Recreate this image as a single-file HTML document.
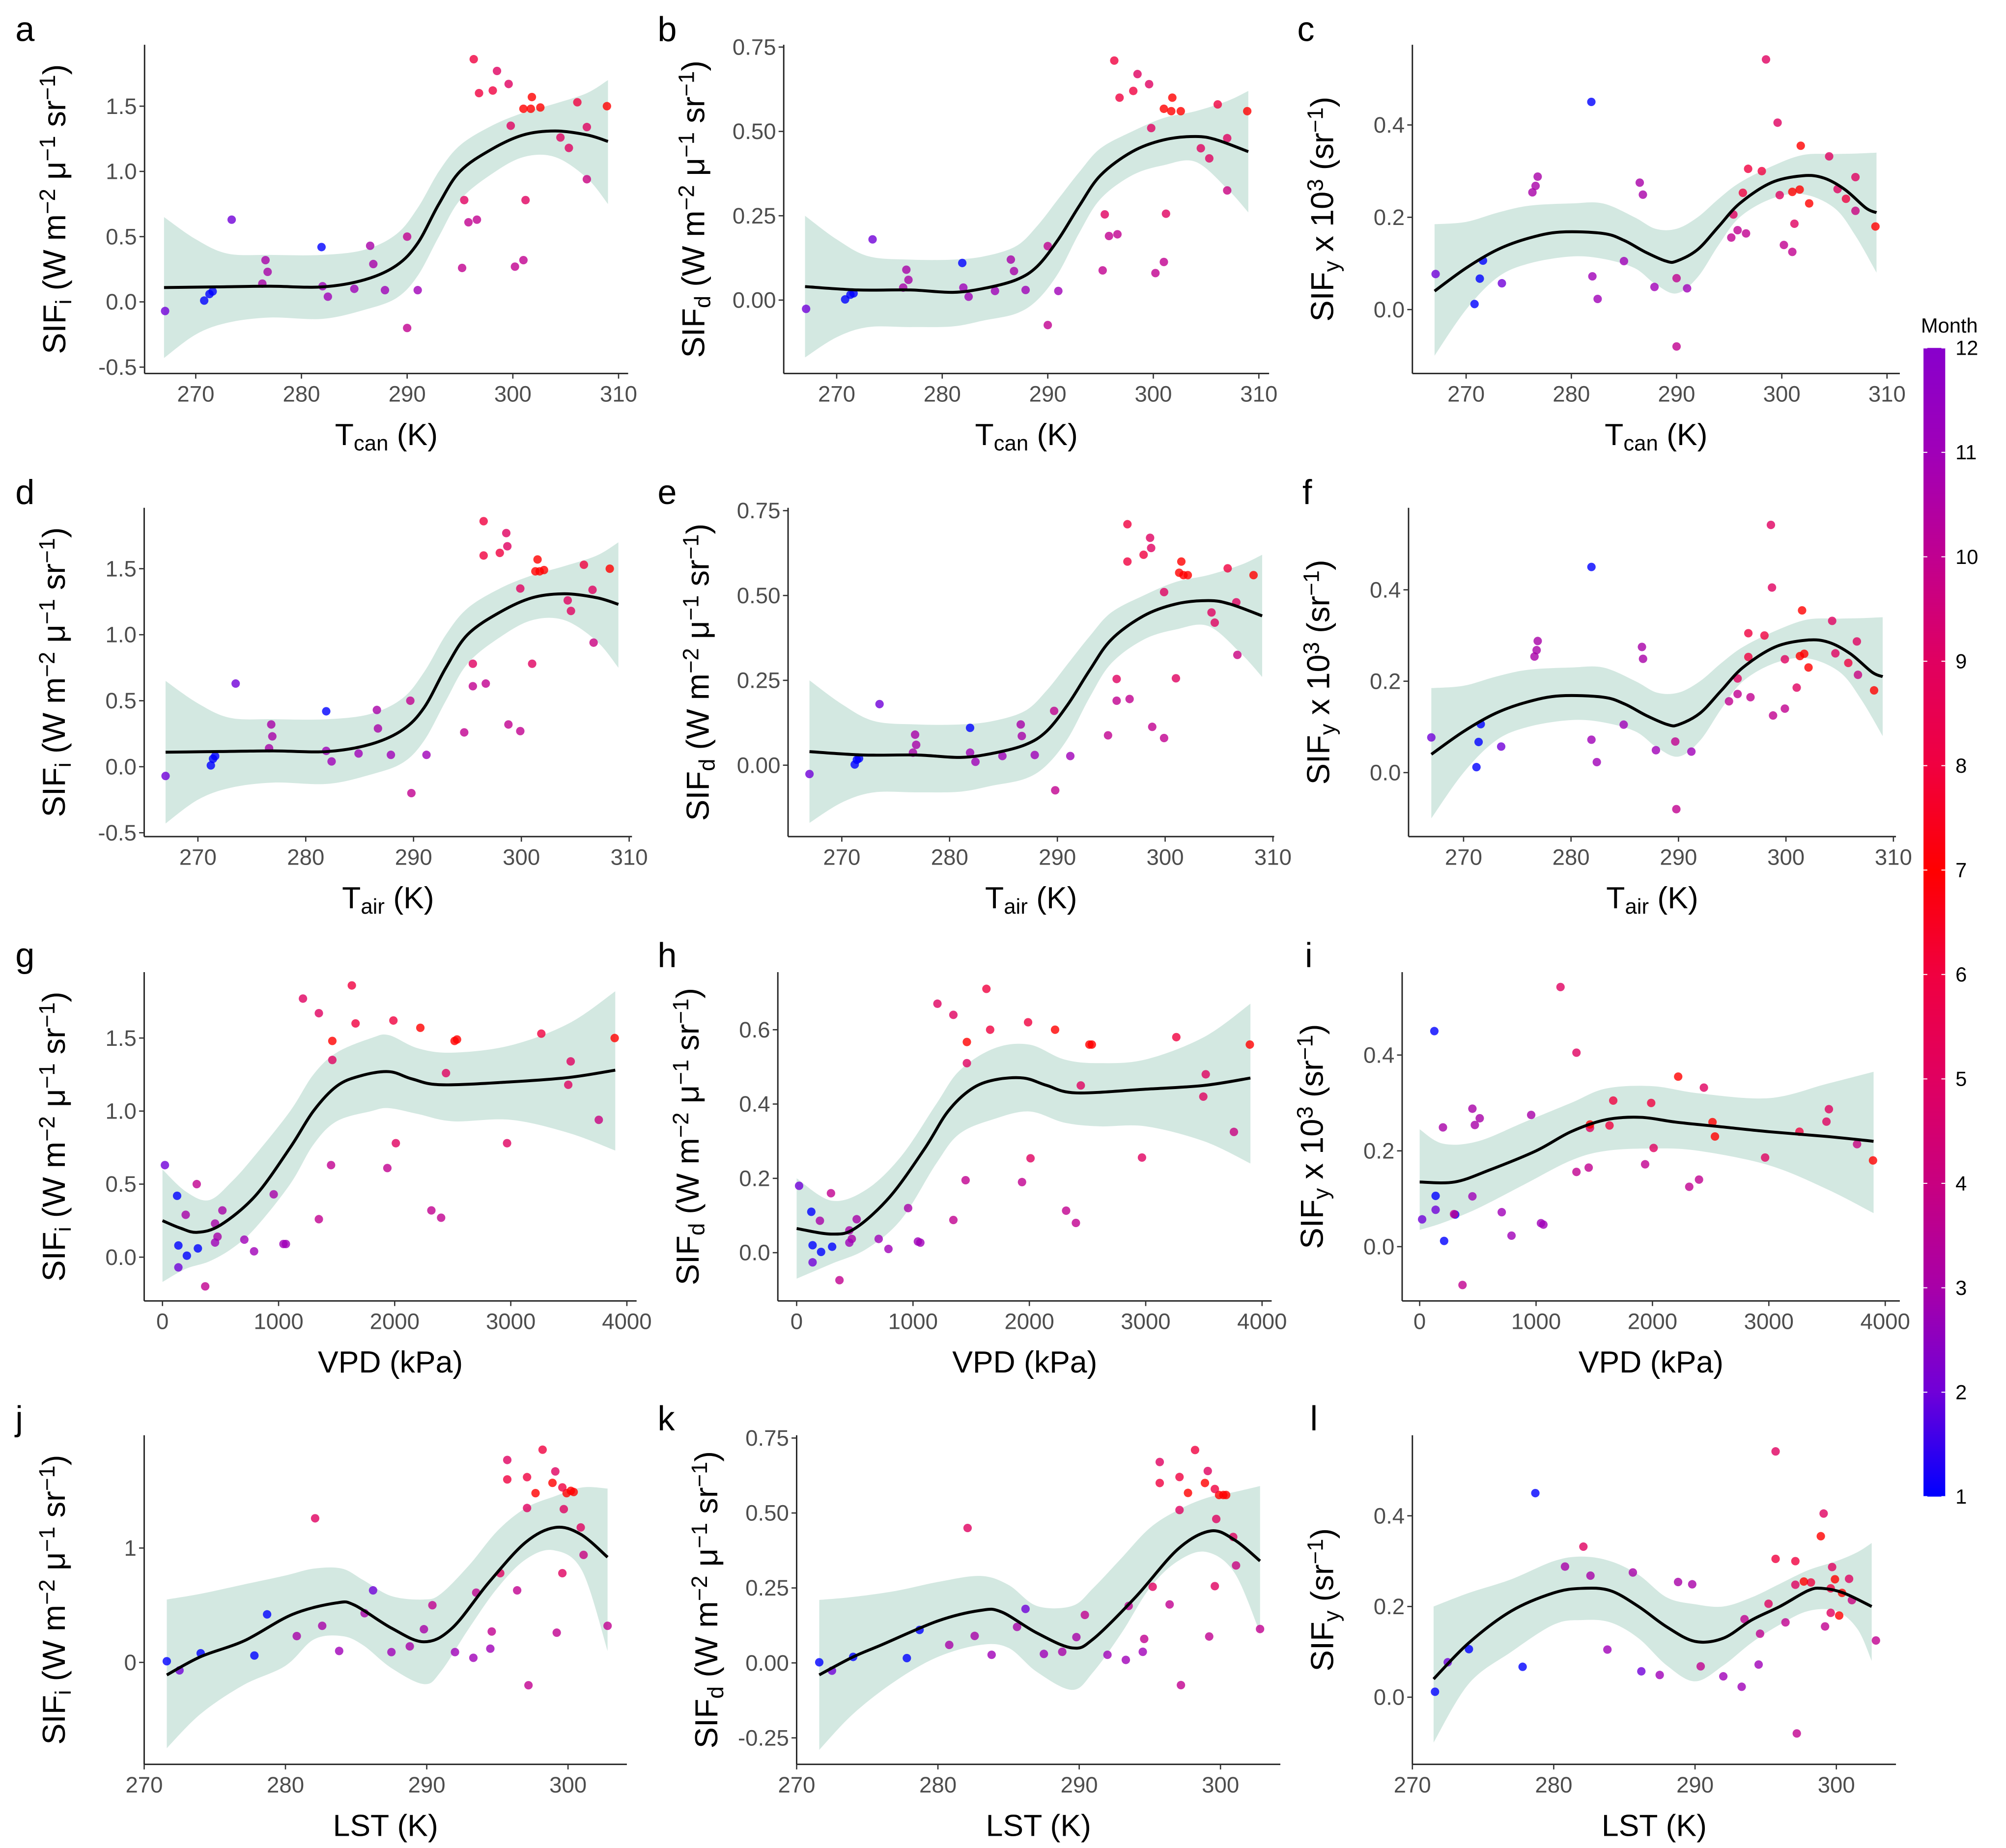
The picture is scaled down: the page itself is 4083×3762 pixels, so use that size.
<!DOCTYPE html>
<html><head><meta charset="utf-8"><style>
html,body{margin:0;padding:0;background:#fff;}
svg{display:block;font-family:"Liberation Sans",sans-serif;}
</style></head><body>
<svg id="fig" width="4083" height="3762" viewBox="0 0 1568 1444.7" preserveAspectRatio="none" xmlns="http://www.w3.org/2000/svg">
<defs>
<linearGradient id="mgrad" x1="0" y1="1" x2="0" y2="0">
<stop offset="0" stop-color="#0000ff"/><stop offset="0.091" stop-color="#7000d8"/><stop offset="0.182" stop-color="#a800a8"/><stop offset="0.273" stop-color="#c80080"/><stop offset="0.364" stop-color="#e00060"/><stop offset="0.455" stop-color="#f00040"/><stop offset="0.545" stop-color="#ff0000"/><stop offset="0.636" stop-color="#f00040"/><stop offset="0.727" stop-color="#e00060"/><stop offset="0.818" stop-color="#c00090"/><stop offset="0.909" stop-color="#a000b8"/><stop offset="1" stop-color="#8800cc"/>
</linearGradient>
</defs>
</svg>
<script>
// ---- observation data ----
const Tcan=[267.1,270.8,271.3,271.6,273.4,276.3,276.6,276.8,281.9,282.0,282.5,285.0,286.5,286.8,287.9,290.0,290.0,291.0,295.2,295.4,295.8,296.3,296.6,296.8,298.1,298.5,299.6,299.8,300.2,301.0,301.0,301.2,301.7,301.8,302.6,304.5,305.3,306.1,307.0,307.0,308.9];
const Tair=[267.0,271.2,271.4,271.6,273.5,276.6,276.8,276.9,281.9,281.9,282.4,284.9,286.6,286.7,287.9,289.7,289.8,291.2,294.7,295.5,295.5,296.5,296.7,296.5,298.0,298.6,298.7,299.9,299.9,301.3,298.8,301.0,301.7,301.5,302.1,304.3,304.6,305.8,306.6,306.7,308.2];
const VPD=[137,210,305,137,21,474,516,453,126,705,789,453,958,200,1042,295,368,1063,1347,2010,1937,1631,1452,1663,1989,1210,1347,1463,2400,1463,2316,2968,2516,2221,2537,2442,3495,3263,3516,3758,3895];
const LST=[272.5,271.6,277.8,274.0,286.2,288.8,282.6,280.8,278.7,294.5,293.3,283.8,285.6,289.8,287.5,290.4,297.2,292.0,299.2,295.2,293.5,298.2,296.4,295.7,297.1,295.7,299.1,297.1,294.6,297.7,302.8,299.6,299.9,298.9,300.4,282.1,300.9,299.6,299.7,301.1,300.2];
const SIFi=[-0.07,0.01,0.06,0.08,0.63,0.14,0.32,0.23,0.42,0.12,0.04,0.10,0.43,0.29,0.09,0.50,-0.20,0.09,0.26,0.78,0.61,1.86,0.63,1.60,1.62,1.77,1.67,1.35,0.27,1.48,0.32,0.78,1.48,1.57,1.49,1.26,1.18,1.53,1.34,0.94,1.50];
const SIFd=[-0.026,0.002,0.016,0.02,0.18,0.037,0.09,0.06,0.11,0.037,0.01,0.027,0.12,0.086,0.03,0.16,-0.074,0.027,0.088,0.254,0.19,0.71,0.195,0.60,0.62,0.67,0.64,0.51,0.08,0.567,0.113,0.256,0.56,0.60,0.56,0.45,0.42,0.58,0.48,0.325,0.56];
const SIFy=[0.077,0.012,0.067,0.106,0.057,0.254,0.268,0.288,0.45,0.072,0.023,0.105,0.275,0.249,0.049,0.068,-0.08,0.046,0.156,0.206,0.172,0.253,0.165,0.305,0.30,0.542,0.405,0.248,0.14,0.255,0.125,0.186,0.26,0.355,0.23,0.332,0.261,0.24,0.287,0.214,0.18];
const month=[2,1,1,1,2,3,3,3,1,11,11,11,3,3,11,10,10,11,10,9,10,6,10,6,6,5,5,9,10,7,10,9,7,7,7,9,9,8,9,4,7];
// ---- fitted smooth + confidence bands ----
const aFitX=[267,272,277,282,286,289,291,293,295,298,301,304,307,309];
const aFitY=[0.11,0.115,0.12,0.115,0.17,0.28,0.45,0.75,1.0,1.17,1.28,1.31,1.28,1.23];
const aBandX=[267,270,273,277,282,286,289,291,293,295,298,301,304,307,309];
const aBandLo=[-0.43,-0.25,-0.16,-0.12,-0.13,-0.06,0.03,0.2,0.5,0.78,0.98,1.11,1.11,0.95,0.75];
const aBandHi=[0.65,0.48,0.37,0.36,0.36,0.40,0.52,0.72,1.0,1.2,1.35,1.45,1.52,1.6,1.7];
const bFitX=[267,272,277,281,284,287,289,291,293,295,298,301,304,306,309];
const bFitY=[0.04,0.03,0.03,0.023,0.035,0.06,0.1,0.18,0.28,0.37,0.44,0.475,0.485,0.475,0.44];
const bBandX=[267,270,273,277,281,284,287,289,291,293,295,298,301,304,307,309];
const bBandLo=[-0.17,-0.11,-0.08,-0.08,-0.078,-0.06,-0.04,0.0,0.08,0.2,0.3,0.37,0.4,0.41,0.33,0.26];
const bBandHi=[0.25,0.18,0.13,0.12,0.12,0.13,0.16,0.22,0.3,0.38,0.45,0.5,0.54,0.56,0.59,0.62];
const cFitX=[267,270,273,276,279,283,285,287,289,290,292,294,296,299,302,304,306,308,309];
const cFitY=[0.04,0.09,0.13,0.155,0.168,0.165,0.15,0.125,0.105,0.105,0.13,0.18,0.23,0.275,0.29,0.285,0.26,0.22,0.21];
const cBandX=[267,270,273,276,280,283,286,288,290,292,294,296,299,302,305,307,309];
const cBandLo=[-0.1,0.0,0.07,0.1,0.115,0.11,0.09,0.055,0.035,0.07,0.14,0.2,0.24,0.25,0.22,0.16,0.08];
const cBandHi=[0.185,0.19,0.21,0.225,0.23,0.23,0.2,0.175,0.175,0.2,0.24,0.275,0.31,0.335,0.337,0.338,0.34];
const gFitX=[0,150,300,500,800,1100,1300,1500,1700,1950,2150,2400,3000,3500,3900];
const gFitY=[0.25,0.2,0.17,0.22,0.42,0.75,1.0,1.17,1.24,1.27,1.22,1.18,1.2,1.23,1.28];
const gBandX=[0,200,400,600,800,1100,1300,1500,1800,1950,2200,2500,3000,3500,3900];
const gBandLo=[-0.17,-0.08,-0.03,0.06,0.2,0.5,0.77,0.93,1.0,1.02,0.98,0.93,0.94,0.85,0.73];
const gBandHi=[0.6,0.45,0.39,0.52,0.7,1.0,1.25,1.4,1.5,1.52,1.43,1.4,1.45,1.6,1.82];
const hFitX=[0,300,500,800,1100,1300,1500,1700,1950,2150,2400,3000,3500,3900];
const hFitY=[0.065,0.05,0.065,0.15,0.28,0.38,0.44,0.465,0.47,0.45,0.43,0.44,0.45,0.47];
const hBandX=[0,300,600,900,1200,1400,1700,2000,2300,2600,3000,3500,3900];
const hBandLo=[-0.07,-0.03,0.01,0.09,0.24,0.32,0.36,0.38,0.35,0.34,0.34,0.3,0.24];
const hBandHi=[0.2,0.14,0.17,0.26,0.4,0.49,0.55,0.56,0.52,0.51,0.52,0.58,0.67];
const iFitX=[0,300,600,1000,1300,1600,1900,2200,2600,3000,3500,3900];
const iFitY=[0.135,0.135,0.16,0.2,0.24,0.265,0.27,0.26,0.25,0.24,0.23,0.22];
const iBandX=[0,200,500,900,1300,1600,2000,2400,3000,3500,3900];
const iBandLo=[0.035,0.05,0.08,0.13,0.18,0.2,0.205,0.2,0.17,0.12,0.07];
const iBandHi=[0.245,0.215,0.22,0.26,0.3,0.33,0.335,0.32,0.31,0.34,0.365];
const jFitX=[271.6,274,277.1,280.5,283.6,284.9,287.5,289.8,291.8,294.4,297,299.1,300.9,302.8];
const jFitY=[-0.11,0.05,0.19,0.42,0.52,0.5,0.3,0.18,0.3,0.7,1.05,1.18,1.12,0.92];
const jBandX=[271.6,274,277,280,282,284,285.5,287.5,289.8,291,293,295,297,299,301,302.8];
const jBandLo=[-0.75,-0.45,-0.2,-0.03,0.2,0.23,0.15,-0.05,-0.19,-0.08,0.3,0.65,0.9,0.98,0.8,0.1];
const jBandHi=[0.55,0.6,0.68,0.76,0.82,0.82,0.72,0.58,0.55,0.6,0.85,1.15,1.35,1.45,1.53,1.52];
const kFitX=[271.6,274,276,280,283,284.5,287,289.5,291,294,297,299.3,301,302.8];
const kFitY=[-0.04,0.02,0.06,0.14,0.175,0.17,0.1,0.05,0.08,0.22,0.38,0.44,0.41,0.34];
const kBandX=[271.6,274,277,280,283,285,287,289.5,291,293,295,297,299,301,302.8];
const kBandLo=[-0.29,-0.17,-0.06,0.02,0.06,0.05,-0.03,-0.09,-0.03,0.1,0.25,0.34,0.37,0.3,0.1];
const kBandHi=[0.21,0.22,0.24,0.27,0.29,0.26,0.19,0.19,0.25,0.35,0.45,0.51,0.55,0.57,0.59];
const lFitX=[271.5,274,277,280,282,284,286,288,290,292,294,296,298,299,300.5,302.5];
const lFitY=[0.04,0.12,0.19,0.23,0.24,0.235,0.2,0.155,0.123,0.13,0.17,0.2,0.235,0.24,0.23,0.2];
const lBandX=[271.5,274,277,280,282,284,286,288,290,292,294,296,298,300,301.5,302.5];
const lBandLo=[-0.1,0.03,0.1,0.16,0.17,0.165,0.13,0.07,0.035,0.07,0.12,0.16,0.19,0.19,0.15,0.08];
const lBandHi=[0.2,0.23,0.26,0.3,0.31,0.3,0.27,0.22,0.205,0.2,0.22,0.25,0.28,0.3,0.32,0.34];
// tick arrays
const tempTicks=[270,280,290,300,310];
const vpdTicks=[0,1000,2000,3000,4000];
const lstTicks=[270,280,290,300];
const sifiTicks=[-0.5,0,0.5,1,1.5];
const sifiTickLabels=["-0.5","0.0","0.5","1.0","1.5"];
const sifdTicks=[0,0.25,0.5,0.75];
const sifdTickLabels=["0.00","0.25","0.50","0.75"];
const sifyTicks=[0,0.2,0.4];
const sifyTickLabels=["0.0","0.2","0.4"];
const sifiLstTicks=[0,1];
const sifiLstTickLabels=["0","1"];
const sifdLstTicks=[-0.25,0,0.25,0.5,0.75];
const sifdLstTickLabels=["-0.25","0.00","0.25","0.50","0.75"];
const monthTicks=[1,2,3,4,5,6,7,8,9,10,11,12];

const NS="http://www.w3.org/2000/svg";
const svg=document.getElementById('fig');
function mk(tag,attrs,parent){const e=document.createElementNS(NS,tag);for(const k in attrs)e.setAttribute(k,attrs[k]);(parent||svg).appendChild(e);return e;}
const stops=["#0000ff","#7000d8","#a800a8","#c80080","#e00060","#f00040","#ff0000","#f00040","#e00060","#c00090","#a000b8","#8800cc"];
function col(m){return stops[Math.max(0,Math.min(11,Math.round(m)-1))];}
function lin(v1,p1,v2,p2){return v=>p1+(v-v1)*(p2-p1)/(v2-v1);}
function smooth(pts){let d="M"+pts[0][0].toFixed(2)+","+pts[0][1].toFixed(2);for(let i=0;i<pts.length-1;i++){const p0=pts[i-1]||pts[i],p1=pts[i],p2=pts[i+1],p3=pts[i+2]||p2;const c1=[p1[0]+(p2[0]-p0[0])/6,p1[1]+(p2[1]-p0[1])/6],c2=[p2[0]-(p3[0]-p1[0])/6,p2[1]-(p3[1]-p1[1])/6];d+="C"+c1[0].toFixed(2)+","+c1[1].toFixed(2)+" "+c2[0].toFixed(2)+","+c2[1].toFixed(2)+" "+p2[0].toFixed(2)+","+p2[1].toFixed(2);}return d;}
function smoothCont(pts){return smooth(pts).replace(/^M/,"L");}

function richText(parent,x,y,parts,attrs){
  const t=mk('text',Object.assign({x:x,y:y},attrs),parent);
  parts.forEach(p=>{const s=mk('tspan',{},t);s.textContent=p[0];
    if(p[1]==='sub'){s.setAttribute('baseline-shift','-25%');s.setAttribute('font-size','70%');}
    if(p[1]==='sup'){s.setAttribute('baseline-shift','45%');s.setAttribute('font-size','70%');}});
  return t;}
const ylabI=[["SIF"],["i","sub"],[" (W m"],["−2","sup"],[" μ"],["−1","sup"],[" sr"],["−1","sup"],[")"]];
const ylabD=[["SIF"],["d","sub"],[" (W m"],["−2","sup"],[" μ"],["−1","sup"],[" sr"],["−1","sup"],[")"]];
const ylabY3=[["SIF"],["y","sub"],[" x 10"],["3","sup"],[" (sr"],["−1","sup"],[")"]];
const ylabY=[["SIF"],["y","sub"],[" (sr"],["−1","sup"],[")"]];
const xlTcan=[["T"],["can","sub"],[" (K)"]];
const xlTair=[["T"],["air","sub"],[" (K)"]];
const xlVPD=[["VPD (kPa)"]];
const xlLST=[["LST (K)"]];

const panels=[
 {id:'a',X:Tcan,Y:SIFi,fx:aFitX,fy:aFitY,bx:aBandX,bl:aBandLo,bh:aBandHi,ax:113,ay:292,top:35,right:491,xs:[270,153,310,483.5],ys:[0,236,1.5,83],xt:tempTicks,yt:sifiTicks,ytl:sifiTickLabels,xl:xlTcan,yl:ylabI,lx:12,ly:32},
 {id:'b',X:Tcan,Y:SIFd,fx:bFitX,fy:bFitY,bx:bBandX,bl:bBandLo,bh:bBandHi,ax:612.6,ay:292,top:35,right:992,xs:[270,654,310,984],ys:[0,234.6,0.75,36.8],xt:tempTicks,yt:sifdTicks,ytl:sifdTickLabels,xl:xlTcan,yl:ylabD,lx:514,ly:32},
 {id:'c',X:Tcan,Y:SIFy,fx:cFitX,fy:cFitY,bx:cBandX,bl:cBandLo,bh:cBandHi,ax:1104,ay:292,top:35,right:1485,xs:[270,1146,310,1475],ys:[0,242,0.4,97.7],xt:tempTicks,yt:sifyTicks,ytl:sifyTickLabels,xl:xlTcan,yl:ylabY3,lx:1014,ly:32},
 {id:'d',X:Tair,Y:SIFi,fx:aFitX,fy:aFitY,bx:aBandX,bl:aBandLo,bh:aBandHi,ax:112.7,ay:654,top:397,right:494,xs:[270,154.7,310,491.8],ys:[0,599.4,1.5,444.6],xt:tempTicks,yt:sifiTicks,ytl:sifiTickLabels,xl:xlTair,yl:ylabI,lx:12,ly:394},
 {id:'e',X:Tair,Y:SIFd,fx:bFitX,fy:bFitY,bx:bBandX,bl:bBandLo,bh:bBandHi,ax:616,ay:654,top:397,right:996,xs:[270,658,310,995],ys:[0,598.2,0.75,399.2],xt:tempTicks,yt:sifdTicks,ytl:sifdTickLabels,xl:xlTair,yl:ylabD,lx:514,ly:394},
 {id:'f',X:Tair,Y:SIFy,fx:cFitX,fy:cFitY,bx:cBandX,bl:cBandLo,bh:cBandHi,ax:1101,ay:654,top:397,right:1482,xs:[270,1144,310,1480],ys:[0,604,0.4,461.1],xt:tempTicks,yt:sifyTicks,ytl:sifyTickLabels,xl:xlTair,yl:ylabY3,lx:1018,ly:394},
 {id:'g',X:VPD,Y:SIFi,fx:gFitX,fy:gFitY,bx:gBandX,bl:gBandLo,bh:gBandHi,ax:112.7,ay:1017,top:760,right:497.6,xs:[0,127,4000,490],ys:[0,982.8,1.5,811.5],xt:vpdTicks,yt:sifiTicks.slice(1),ytl:sifiTickLabels.slice(1),xl:xlVPD,yl:ylabI,lx:12,ly:756},
 {id:'h',X:VPD,Y:SIFd,fx:hFitX,fy:hFitY,bx:hBandX,bl:hBandLo,bh:hBandHi,ax:608,ay:1017,top:760,right:994,xs:[0,622.7,4000,986.5],ys:[0,979.3,0.6,805],xt:vpdTicks,yt:[0,0.2,0.4,0.6],ytl:["0.0","0.2","0.4","0.6"],xl:xlVPD,yl:ylabD,lx:514,ly:756},
 {id:'i',X:VPD,Y:SIFy,fx:iFitX,fy:iFitY,bx:iBandX,bl:iBandLo,bh:iBandHi,ax:1096,ay:1017,top:760,right:1485,xs:[0,1109.7,4000,1473.6],ys:[0,974.6,0.4,824.8],xt:vpdTicks,yt:sifyTicks,ytl:sifyTickLabels,xl:xlVPD,yl:ylabY3,lx:1020,ly:756},
 {id:'j',X:LST,Y:SIFi,fx:jFitX,fy:jFitY,bx:jBandX,bl:jBandLo,bh:jBandHi,ax:112.7,ay:1379.3,top:1122,right:490,xs:[270,112.7,300,444],ys:[0,1299.6,1,1210.2],xt:lstTicks,yt:sifiLstTicks,ytl:sifiLstTickLabels,xl:xlLST,yl:ylabI,lx:12,ly:1118},
 {id:'k',X:LST,Y:SIFd,fx:kFitX,fy:kFitY,bx:kBandX,bl:kBandLo,bh:kBandHi,ax:622.7,ay:1379.3,top:1122,right:1000.8,xs:[270,622.7,300,954],ys:[0,1300,0.75,1124.2],xt:lstTicks,yt:sifdLstTicks,ytl:sifdLstTickLabels,xl:xlLST,yl:ylabD,lx:514,ly:1118},
 {id:'l',X:LST,Y:SIFy,fx:lFitX,fy:lFitY,bx:lBandX,bl:lBandLo,bh:lBandHi,ax:1104,ay:1379.3,top:1122,right:1482,xs:[270,1104,300,1435.4],ys:[0,1326.8,0.4,1185],xt:lstTicks,yt:sifyTicks,ytl:sifyTickLabels,xl:xlLST,yl:ylabY,lx:1024,ly:1118}
];

panels.forEach(p=>{
  const g=mk('g',{});
  
  
  const sx=lin(p.xs[0],p.xs[1],p.xs[2],p.xs[3]), sy=lin(p.ys[0],p.ys[1],p.ys[2],p.ys[3]);
  const hi=p.bx.map((x,i)=>[sx(x),sy(p.bh[i])]);
  const lo=p.bx.map((x,i)=>[sx(x),sy(p.bl[i])]).reverse();
  const band=mk('path',{d:smooth(hi)+" L"+lo[0][0].toFixed(2)+","+lo[0][1].toFixed(2)+" "+smoothCont(lo).replace(/^L[^C]*/,"")+"Z",fill:"#d3e8e1",stroke:"none"},g);
  
  
  p.X.forEach((x,i)=>{
    const c=mk('circle',{cx:sx(x).toFixed(2),cy:sy(p.Y[i]).toFixed(2),r:3.3,fill:col(month[i]),'fill-opacity':0.8},g);
    
    
  });
  const fit=mk('path',{d:smooth(p.fx.map((x,i)=>[sx(x),sy(p.fy[i])])),fill:"none",stroke:"#000",'stroke-width':2.3},g);
  
  
  const yax=mk('line',{x1:p.ax,y1:p.top,x2:p.ax,y2:p.ay,stroke:"#222",'stroke-width':1.1},g);
  
  
  const xax=mk('line',{x1:p.ax,y1:p.ay,x2:p.right,y2:p.ay,stroke:"#222",'stroke-width':1.1},g);
  
  
  p.xt.forEach(v=>{
    const x=sx(v);
    const tk=mk('line',{x1:x,y1:p.ay,x2:x,y2:p.ay+4,stroke:"#333",'stroke-width':1},g);
    
    
    const t=mk('text',{x:x,y:p.ay+22,'text-anchor':'middle','font-size':17.5,fill:'#4d4d4d'},g);
    t.textContent=String(v);
    
    
  });
  p.yt.forEach((v,i)=>{
    const y=sy(v);
    const tk=mk('line',{x1:p.ax-4,y1:y,x2:p.ax,y2:y,stroke:"#333",'stroke-width':1},g);
    
    
    const t=mk('text',{x:p.ax-6,y:y+6,'text-anchor':'end','font-size':17.5,fill:'#4d4d4d'},g);
    t.textContent=p.ytl[i];
    
    
  });
  const xt=richText(g,(p.ax+p.right)/2,p.ay+56,p.xl,{'text-anchor':'middle','font-size':24,fill:'#000'});
  
  
  const yc=(p.top+p.ay)/2, yx=p.ax-62;
  const yt=richText(g,yx,yc,p.yl,{'text-anchor':'middle','font-size':25,fill:'#000',transform:'rotate(-90 '+yx+' '+yc+')'});
  
  
  const lt=mk('text',{x:p.lx,y:p.ly,'font-size':27,fill:'#000'},g);
  lt.textContent=p.id;
  
  
});

const leg=mk('g',{});


const cbTop=272, cbBot=1170, cbX=1503.5, cbW=17;
const bar=mk('rect',{x:cbX,y:cbTop,width:cbW,height:cbBot-cbTop,fill:'url(#mgrad)'},leg);


const cby=lin(1,cbBot,12,cbTop);
monthTicks.forEach(m=>{
  const y=cby(m);
  const tl=mk('line',{x1:cbX,y1:y,x2:cbX+3,y2:y,stroke:'#fff','stroke-width':0.8},leg);
  
  
  const tr=mk('line',{x1:cbX+cbW-3,y1:y,x2:cbX+cbW,y2:y,stroke:'#fff','stroke-width':0.8},leg);
  
  
  const t=mk('text',{x:cbX+cbW+8,y:y+5.5,'font-size':16,fill:'#000'},leg);
  t.textContent=String(m);
  
  
});
const lt=mk('text',{x:cbX-2,y:cbTop-12,'font-size':16,fill:'#000'},leg);
lt.textContent='Month';


</script>
</body></html>
